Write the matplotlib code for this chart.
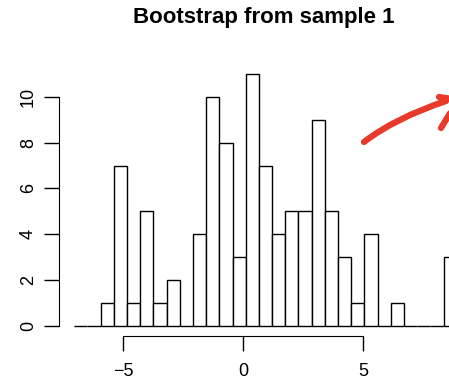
import numpy as np
import matplotlib
matplotlib.use("Agg")
import matplotlib.pyplot as plt
from matplotlib.path import Path
from matplotlib.patches import PathPatch

# histogram data
bin_start = -7.05
bin_width = 0.55
counts = [0, 0, 1, 7, 1, 5, 1, 2, 0, 4, 10, 8, 3, 11, 7, 4, 5, 5, 9, 5, 3, 1, 4, 0, 1, 0, 0, 0, 3]
x_ticks = [-5, 0, 5]
y_ticks = [0, 2, 4, 6, 8, 10]
title = "Bootstrap from sample 1"

W, H = 449, 381
plt.rcParams['font.family'] = ['Liberation Sans', 'DejaVu Sans']

fig = plt.figure(figsize=(W / 100, H / 100), dpi=100)
# plot region as R lays it out (runs past the right edge of the figure)
ax = fig.add_axes([59 / W, 1 - 335.7 / H, 413 / W, (335.7 - 64) / H])

edges = bin_start + bin_width * np.arange(len(counts) + 1)
ax.bar(edges[:-1], counts, width=bin_width, align='edge',
       facecolor='white', edgecolor='black', linewidth=1.0)

xmin, xmax = edges[0], edges[-1]
pad = 0.04 * (xmax - xmin)
ax.set_xlim(xmin - pad, xmax + pad)
ax.set_ylim(-0.04 * max(counts), max(counts) * 1.04)

for s in ['top', 'right']:
    ax.spines[s].set_visible(False)
ax.spines['left'].set_bounds(y_ticks[0], y_ticks[-1])
ax.spines['bottom'].set_bounds(x_ticks[0], x_ticks[-1])

ax.set_xticks(x_ticks)
ax.set_xticklabels(['\u2212' + str(-t) if t < 0 else str(t) for t in x_ticks])
ax.set_yticks(y_ticks)
ax.set_yticklabels([str(t) for t in y_ticks], rotation=90, va='center')
ax.tick_params(axis='both', length=11, width=1, labelsize=13, pad=5)
ax.tick_params(axis='x', pad=9)

fig.text(264 / W, 1 - 17 / H, title, ha='center', va='center',
         fontsize=16, fontweight='bold')

# red hand-drawn arrow in the corner
def px(x, y):
    return (x / W, 1 - y / H)

red = '#e8392a'
verts = [px(364, 142), px(395, 118), px(446, 101)]
arc = PathPatch(Path(verts, [Path.MOVETO, Path.CURVE3, Path.CURVE3]),
                transform=fig.transFigure, facecolor='none', edgecolor=red,
                linewidth=4.5, capstyle='round')
fig.patches.append(arc)
for seg in ([px(439, 97), px(452, 99)], [px(441, 128), px(452, 110)]):
    xs, ys = zip(*seg)
    fig.add_artist(plt.Line2D(xs, ys, transform=fig.transFigure, color=red,
                              linewidth=4.5, solid_capstyle='round'))

fig.savefig('out.png', dpi=100)
